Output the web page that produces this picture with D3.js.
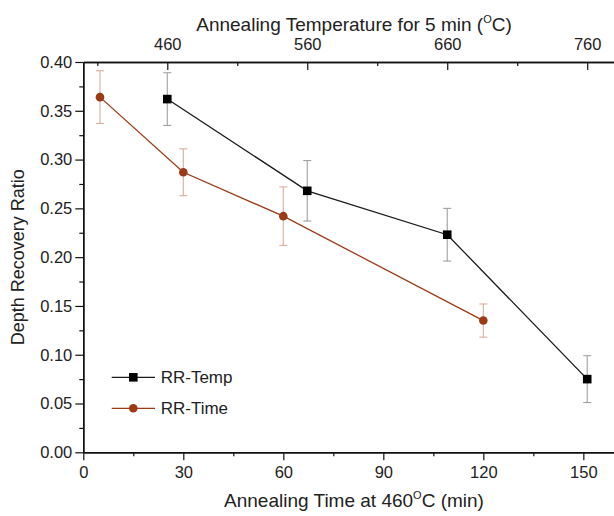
<!DOCTYPE html>
<html>
<head>
<meta charset="utf-8">
<script src="https://cdn.jsdelivr.net/npm/d3@7"></script>
<style>
  body { margin: 0; background: #fff; }
  text { font-family: "Liberation Sans", Arial, sans-serif; fill: #222; }
</style>
</head>
<body>
<svg id="chart" width="614" height="516"></svg>
<script>
// RR-Temp : depth recovery vs annealing temperature (5 min), top axis
var tempC = [460, 560, 660, 760]
var tempRatio = [0.362, 0.268, 0.223, 0.075]
var tempErr = [0.027, 0.031, 0.027, 0.024]

// RR-Time : depth recovery vs annealing time at 460C, bottom axis
var timeMin = [5, 30, 60, 120]
var timeRatio = [0.364, 0.287, 0.242, 0.135]
var timeErr = [0.027, 0.024, 0.030, 0.017]

var timeTicks = [0, 30, 60, 90, 120, 150]
var tempTicks = [460, 560, 660, 760]
var ratioTicks = [0, 0.05, 0.10, 0.15, 0.20, 0.25, 0.30, 0.35, 0.40]

var svg = d3.select('#chart')
// plot box (right edge runs past the picture, as in the original)
var pLeft = 83.3, pRight = 625, pTop = 62, pBottom = 452.3

var x = d3.scaleLinear().domain([0, 162.5]).range([pLeft, pRight])
var xTop = d3.scaleLinear().domain([400, 787]).range([pLeft, pRight])
var y = d3.scaleLinear().domain([0, 0.4]).range([pBottom, pTop])

var brown = '#9c3a16'
var brownErr = '#d9ae9c'
var blackErr = '#a0a0a0'

function styleAxis(g){
  g.select('.domain').attr('stroke', '#111').attr('stroke-width', 1.4)
  g.selectAll('.tick line').attr('stroke', '#111').attr('stroke-width', 1.2)
  g.selectAll('.tick text').style('font-size', '16.5px').style('font-family', '"Liberation Sans", Arial, sans-serif').attr('fill', '#222')
}

// minor ticks first (no labels)
svg.append('g')
  .attr('transform', 'translate(0,' + pBottom + ')')
  .call(d3.axisBottom(x).tickValues(d3.range(15, 165, 30)).tickSize(4).tickFormat('').tickSizeOuter(0))
  .call(styleAxis)
svg.append('g')
  .attr('transform', 'translate(' + pLeft + ',0)')
  .call(d3.axisLeft(y).tickValues(d3.range(0.025, 0.4, 0.05)).tickSize(4).tickFormat('').tickSizeOuter(0))
  .call(styleAxis)
svg.append('g')
  .attr('transform', 'translate(0,' + pTop + ')')
  .call(d3.axisTop(xTop).tickValues([410, 510, 610, 710]).tickSize(-4).tickFormat('').tickSizeOuter(0))
  .call(styleAxis)

// major axes
svg.append('g')
  .attr('transform', 'translate(0,' + pBottom + ')')
  .call(d3.axisBottom(x).tickValues(timeTicks).tickSize(8).tickPadding(6).tickSizeOuter(0))
  .call(styleAxis)
svg.append('g')
  .attr('transform', 'translate(' + pLeft + ',0)')
  .call(d3.axisLeft(y).tickValues(ratioTicks).tickFormat(d3.format('.2f')).tickSize(8).tickPadding(3).tickSizeOuter(0))
  .call(styleAxis)
svg.append('g')
  .attr('transform', 'translate(0,' + pTop + ')')
  .call(d3.axisTop(xTop).tickValues(tempTicks).tickSize(-8).tickPadding(12).tickSizeOuter(0))
  .call(styleAxis)

// axis titles
var t1 = svg.append('text').attr('x', 354).attr('y', 31).attr('text-anchor', 'middle').style('font-size', '19px')
t1.append('tspan').text('Annealing Temperature for 5 min (')
t1.append('tspan').text('O').style('font-size', '11px').attr('dy', -8)
t1.append('tspan').text('C)').attr('dy', 8)

var t2 = svg.append('text').attr('x', 354).attr('y', 507).attr('text-anchor', 'middle').style('font-size', '19px')
t2.append('tspan').text('Annealing Time at 460')
t2.append('tspan').text('O').style('font-size', '11px').attr('dy', -8)
t2.append('tspan').text('C (min)').attr('dy', 8)

svg.append('text')
  .attr('transform', 'translate(24,' + ((pTop + pBottom) / 2) + ') rotate(-90)')
  .attr('text-anchor', 'middle')
  .style('font-size', '18px')
  .text('Depth Recovery Ratio')

// series
var tempData = tempC.map(function(d, i){ return {x: xTop(d), v: tempRatio[i], e: tempErr[i]} })
var timeData = timeMin.map(function(d, i){ return {x: x(d), v: timeRatio[i], e: timeErr[i]} })

function errorBars(data, color){
  var g = svg.append('g').attr('stroke', color).attr('stroke-width', 1.1)
  data.forEach(function(d){
    g.append('line').attr('x1', d.x).attr('x2', d.x).attr('y1', y(d.v + d.e)).attr('y2', y(d.v - d.e))
    g.append('line').attr('x1', d.x - 4).attr('x2', d.x + 4).attr('y1', y(d.v + d.e)).attr('y2', y(d.v + d.e))
    g.append('line').attr('x1', d.x - 4).attr('x2', d.x + 4).attr('y1', y(d.v - d.e)).attr('y2', y(d.v - d.e))
  })
}
errorBars(tempData, blackErr)
errorBars(timeData, brownErr)

var line = d3.line().x(function(d){ return d.x }).y(function(d){ return y(d.v) })

svg.append('path').datum(tempData).attr('d', line)
  .attr('fill', 'none').attr('stroke', '#1a1a1a').attr('stroke-width', 1.3)
svg.append('path').datum(timeData).attr('d', line)
  .attr('fill', 'none').attr('stroke', brown).attr('stroke-width', 1.3)

svg.selectAll('.sq').data(tempData).enter().append('rect')
  .attr('class', 'sq')
  .attr('x', function(d){ return d.x - 4.3 }).attr('y', function(d){ return y(d.v) - 4.3 })
  .attr('width', 8.6).attr('height', 8.6).attr('fill', '#000')
svg.selectAll('.dot').data(timeData).enter().append('circle')
  .attr('class', 'dot')
  .attr('cx', function(d){ return d.x }).attr('cy', function(d){ return y(d.v) })
  .attr('r', 4.3).attr('fill', brown)

// legend
var legend = [{name: 'RR-Temp', color: '#1a1a1a', shape: 'square', ly: 377.3},
              {name: 'RR-Time', color: brown, shape: 'circle', ly: 408.3}]
legend.forEach(function(l){
  svg.append('line').attr('x1', 111.7).attr('x2', 155).attr('y1', l.ly).attr('y2', l.ly)
    .attr('stroke', l.color).attr('stroke-width', 1.3)
  if(l.shape == 'square'){
    svg.append('rect').attr('x', 133.3 - 4.3).attr('y', l.ly - 4.3).attr('width', 8.6).attr('height', 8.6).attr('fill', '#000')
  }else{
    svg.append('circle').attr('cx', 133.3).attr('cy', l.ly).attr('r', 4.3).attr('fill', brown)
  }
  svg.append('text').attr('x', 160.7).attr('y', l.ly + 6).style('font-size', '17px').text(l.name)
})
</script>
</body>
</html>
